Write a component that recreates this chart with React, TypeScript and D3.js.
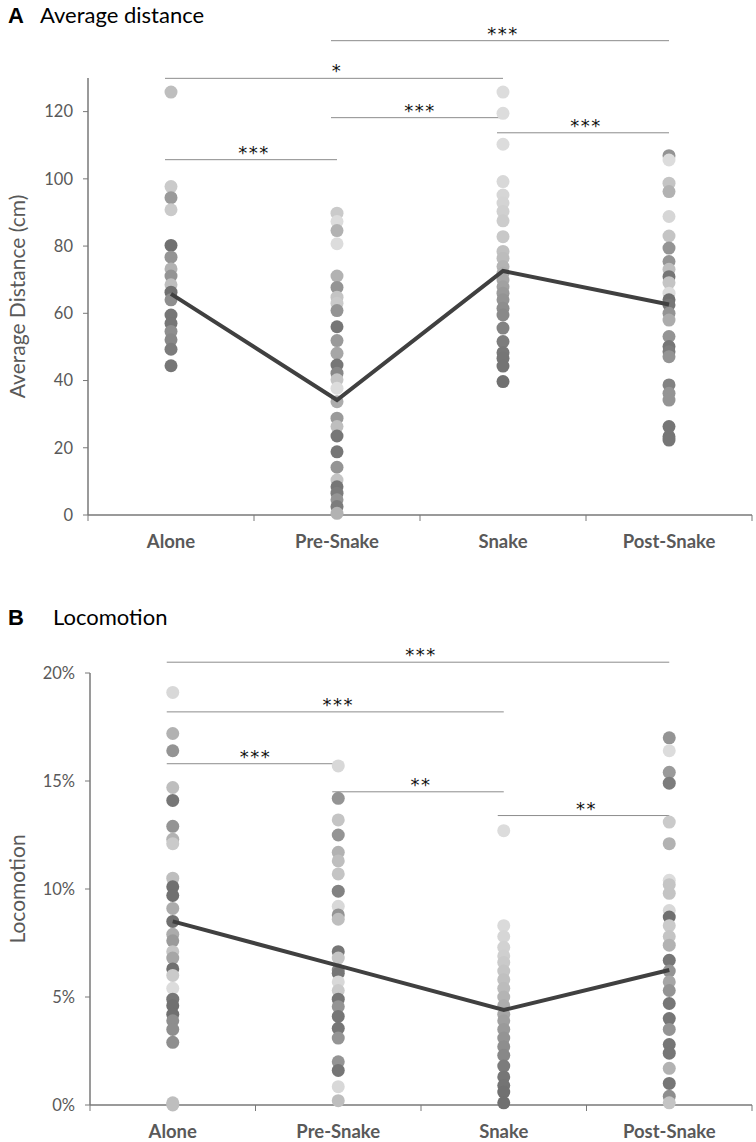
import * as d3 from 'd3';

const categories = ['Alone', 'Pre-Snake', 'Snake', 'Post-Snake'];

// Panel A: average distance (cm), one value per animal, with a grey tone per dot (0 dark .. 1 light)
const distAlone = [125.8, 97.7, 94.4, 90.8, 80.2, 76.7, 73.2, 71.1, 68.5, 66.3, 64, 59.5, 57, 54.6, 52.1, 49.3, 44.4];
const distAloneTone = [0.7, 0.8, 0.4, 0.8, 0.05, 0.35, 0.6, 0.35, 0.7, 0.05, 0.3, 0.1, 0.1, 0.3, 0.25, 0.15, 0.1];
const distPre = [89.8, 87.3, 84.6, 80.7, 71.1, 67.7, 64.8, 63, 60.8, 56, 51.9, 48.1, 44.6, 42.2, 40.2, 37.7, 33.7, 28.8, 26.3, 23.5, 18.8, 14.2, 10.4, 8.4, 6.5, 4.5, 2.5, 0.5];
const distPreTone = [0.8, 0.95, 0.6, 0.95, 0.6, 0.35, 0.75, 0.8, 0.35, 0.1, 0.4, 0.5, 0.1, 0.25, 0.75, 0.95, 0.55, 0.4, 0.7, 0.1, 0.1, 0.35, 0.75, 0.1, 0.15, 0.35, 0.15, 0.6];
const distSnake = [125.8, 119.5, 110.3, 99.2, 95.2, 92.8, 90.3, 87.5, 82.8, 78.4, 76.4, 73.9, 71.9, 69.9, 67.9, 66, 64, 61.5, 59.5, 55.6, 51.6, 48.3, 46.6, 44.3, 39.7];
const distSnakeTone = [0.95, 0.95, 0.95, 0.92, 0.9, 0.88, 0.85, 0.82, 0.78, 0.72, 0.68, 0.62, 0.58, 0.52, 0.46, 0.4, 0.35, 0.3, 0.26, 0.2, 0.16, 0.12, 0.1, 0.08, 0.05];
const distPost = [106.9, 105.6, 98.7, 96.2, 88.8, 83, 79.4, 75.4, 73.1, 70.9, 69.1, 66, 64, 62.5, 60, 58, 53.1, 50.1, 48.6, 47.1, 38.7, 36.2, 34.2, 26.3, 23.3, 22.3];
const distPostTone = [0.35, 0.95, 0.75, 0.6, 0.9, 0.75, 0.35, 0.35, 0.7, 0.1, 0.75, 0.95, 0.05, 0.1, 0.35, 0.55, 0.35, 0.1, 0.15, 0.35, 0.2, 0.35, 0.35, 0.1, 0.1, 0.1];
const distMeans = [65.8, 34.2, 72.6, 62.6];

// Panel B: locomotion (fraction of time)
const locoAlone = [0.191, 0.172, 0.164, 0.147, 0.141, 0.129, 0.123, 0.121, 0.105, 0.101, 0.097, 0.091, 0.085, 0.079, 0.076, 0.071, 0.068, 0.063, 0.06, 0.054, 0.049, 0.046, 0.042, 0.039, 0.035, 0.029, 0.001, 0.0];
const locoAloneTone = [0.92, 0.6, 0.35, 0.7, 0.1, 0.35, 0.6, 0.8, 0.7, 0.05, 0.05, 0.55, 0.05, 0.55, 0.4, 0.75, 0.5, 0.05, 0.8, 0.95, 0.1, 0.05, 0.05, 0.3, 0.3, 0.3, 0.7, 0.7];
const locoPre = [0.157, 0.142, 0.132, 0.125, 0.117, 0.113, 0.107, 0.099, 0.092, 0.088, 0.086, 0.071, 0.068, 0.0625, 0.061, 0.057, 0.053, 0.049, 0.0455, 0.041, 0.0355, 0.031, 0.02, 0.016, 0.0085, 0.002];
const locoPreTone = [0.92, 0.35, 0.75, 0.35, 0.6, 0.7, 0.75, 0.2, 0.92, 0.35, 0.7, 0.1, 0.75, 0.25, 0.1, 0.92, 0.8, 0.1, 0.35, 0.1, 0.1, 0.35, 0.35, 0.1, 0.92, 0.7];
const locoSnake = [0.127, 0.083, 0.078, 0.073, 0.069, 0.066, 0.062, 0.058, 0.054, 0.05, 0.046, 0.042, 0.039, 0.035, 0.031, 0.027, 0.023, 0.018, 0.013, 0.009, 0.006, 0.001];
const locoSnakeTone = [0.95, 0.93, 0.9, 0.87, 0.84, 0.8, 0.76, 0.72, 0.68, 0.62, 0.56, 0.5, 0.45, 0.4, 0.35, 0.3, 0.25, 0.15, 0.1, 0.08, 0.06, 0.05];
const locoPost = [0.17, 0.164, 0.154, 0.149, 0.131, 0.121, 0.104, 0.102, 0.098, 0.09, 0.087, 0.083, 0.078, 0.074, 0.067, 0.062, 0.057, 0.053, 0.047, 0.04, 0.035, 0.028, 0.024, 0.017, 0.01, 0.004, 0.001];
const locoPostTone = [0.35, 0.95, 0.4, 0.15, 0.8, 0.6, 0.95, 0.75, 0.75, 0.92, 0.05, 0.8, 0.75, 0.6, 0.1, 0.35, 0.5, 0.35, 0.1, 0.1, 0.35, 0.1, 0.1, 0.6, 0.1, 0.3, 0.75];
const locoMeans = [0.085, 0.0645, 0.044, 0.0625];

// Significance comparisons: [from, to, label, height in data units]
const distSig: [string, string, string, number][] = [
  ['Alone', 'Pre-Snake', '***', 105.7],
  ['Alone', 'Snake', '*', 129.9],
  ['Pre-Snake', 'Snake', '***', 118.2],
  ['Pre-Snake', 'Post-Snake', '***', 141.1],
  ['Snake', 'Post-Snake', '***', 113.7],
];
const locoSig: [string, string, string, number][] = [
  ['Alone', 'Post-Snake', '***', 0.205],
  ['Alone', 'Snake', '***', 0.182],
  ['Alone', 'Pre-Snake', '***', 0.158],
  ['Pre-Snake', 'Snake', '**', 0.145],
  ['Snake', 'Post-Snake', '**', 0.134],
];

const distTicks = [0, 20, 40, 60, 80, 100, 120];
const locoTicks = [0, 0.05, 0.1, 0.15, 0.2];

const grey = d3.scaleLinear<string>().domain([0, 1]).range(['#6a6a6a', '#e2e2e2']);
const axisGrey = '#787878';
const textGrey = '#595959';
const calibri = 'Lato, "Open Sans", sans-serif';

interface PanelProps {
  letter: string;
  title: string;
  yLabel: string;
  top: number;
  yRange: [number, number];
  yDomain: [number, number];
  ticks: number[];
  fmt: (v: number) => string;
  series: number[][];
  tones: number[][];
  means: number[];
  sig: [string, string, string, number][];
  xLeft: number;
}

const Panel = (p: PanelProps) => {
  const x = d3.scaleBand().domain(categories).range([p.xLeft, 752]).padding(0);
  const y = d3.scaleLinear().domain(p.yDomain).range(p.yRange);
  const cx = (c: string) => (x(c) ?? 0) + x.bandwidth() / 2;
  const base = p.yRange[0];
  const line = d3.line<number>()
    .x((_, i) => cx(categories[i]))
    .y(d => y(d));
  const bounds = [...categories.map(c => x(c) ?? 0), p.xLeft + x.bandwidth() * 4];

  return (
    <g>
      <text x={8} y={p.top} fontFamily="Arial, 'Liberation Sans', sans-serif" fontWeight="bold" fontSize={22} fill="#000">{p.letter}</text>
      <text x={p.letter === 'A' ? 40 : 53} y={p.top} fontFamily={calibri} fontSize={22} fill="#000">{p.title}</text>

      {/* significance bars */}
      {p.sig.map(([a, b, lab, v], i) => (
        <g key={i}>
          <line x1={cx(a) - 6} x2={cx(b)} y1={y(v)} y2={y(v)} stroke="#8c8c8c" strokeWidth={1} />
          <text x={(cx(a) + cx(b)) / 2} y={y(v) - 1} textAnchor="middle" fontFamily="'DejaVu Sans', sans-serif" fontSize={18} letterSpacing={1.5} fill="#111">{lab}</text>
        </g>
      ))}

      {/* y axis */}
      <line x1={p.xLeft} x2={p.xLeft} y1={base} y2={p.yRange[1]} stroke={axisGrey} strokeWidth={1.5} />
      {p.ticks.map(t => (
        <g key={t}>
          <line x1={p.xLeft - 5} x2={p.xLeft} y1={y(t)} y2={y(t)} stroke={axisGrey} strokeWidth={1} />
          <text x={p.xLeft - 15} y={y(t)} dy="0.35em" textAnchor="end" fontFamily={calibri} fontSize={16.5} fill={textGrey}>{p.fmt(t)}</text>
        </g>
      ))}
      <text transform={`translate(18,${(base + p.yRange[1]) / 2}) rotate(-90)`} textAnchor="middle" dy="0.35em" fontFamily={calibri} fontSize={21} fill={textGrey}>{p.yLabel}</text>

      {/* x axis */}
      <line x1={p.xLeft} x2={bounds[4]} y1={base} y2={base} stroke={axisGrey} strokeWidth={1.5} />
      {bounds.map((b, i) => (
        <line key={i} x1={b} x2={b} y1={base} y2={base + 6} stroke={axisGrey} strokeWidth={1} />
      ))}
      {categories.map(c => (
        <text key={c} x={cx(c)} y={base + 33} textAnchor="middle" fontFamily={calibri} fontWeight="bold" fontSize={18.5} fill={textGrey}>{c}</text>
      ))}

      {/* dots */}
      {p.series.map((vals, ci) =>
        vals.map((v, i) => (
          <circle key={`${ci}-${i}`} cx={cx(categories[ci])} cy={y(v)} r={6.5} fill={grey(p.tones[ci][i])} />
        ))
      )}

      {/* mean line */}
      <path d={line(p.means) ?? ''} fill="none" stroke="#404040" strokeWidth={4} />
    </g>
  );
};

export default function App() {
  return (
    <svg width={756} height={1142} style={{ position: 'absolute', left: 0, top: 0, background: '#fff' }}>
      <Panel
        letter="A" title="Average distance" yLabel="Average Distance (cm)" top={23}
        yRange={[515, 78]} yDomain={[0, 130]} ticks={distTicks} fmt={v => `${v}`}
        series={[distAlone, distPre, distSnake, distPost]}
        tones={[distAloneTone, distPreTone, distSnakeTone, distPostTone]}
        means={distMeans} sig={distSig} xLeft={88}
      />
      <Panel
        letter="B" title="Locomotion" yLabel="Locomotion" top={625}
        yRange={[1105, 673]} yDomain={[0, 0.2]} ticks={locoTicks} fmt={d3.format('.0%')}
        series={[locoAlone, locoPre, locoSnake, locoPost]}
        tones={[locoAloneTone, locoPreTone, locoSnakeTone, locoPostTone]}
        means={locoMeans} sig={locoSig} xLeft={90}
      />
    </svg>
  );
}
